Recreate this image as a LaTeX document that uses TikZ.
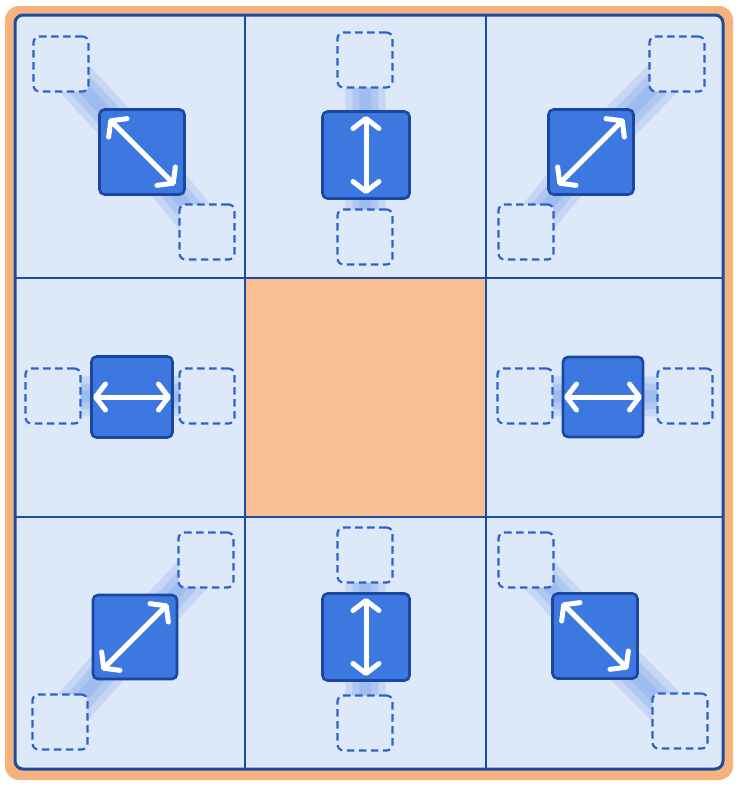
\documentclass[tikz,border=0pt]{standalone}
\usepackage{tikz}
\usetikzlibrary{positioning,arrows.meta}

\definecolor{cellbg}{HTML}{DDE8F8}
\definecolor{gridline}{HTML}{1D4C9E}
\definecolor{framecol}{HTML}{F6B27D}
\definecolor{centrecol}{HTML}{F8BF92}
\definecolor{boxfill}{HTML}{3C78E0}
\definecolor{boxedge}{HTML}{1A47A0}
\definecolor{ghostline}{HTML}{2D62C6}

\begin{document}
\begin{tikzpicture}[x=1pt,y=-1pt,
    movebox/.style={draw=boxedge, fill=boxfill, line width=2.6pt, rounded corners=5pt, minimum size=#1, inner sep=0pt},
    ghostbox/.style={draw=ghostline, fill=cellbg, dash pattern=on 7.5pt off 4.5pt, line width=2.2pt, rounded corners=6pt, minimum size=55pt, inner sep=0pt},
    trail/.style={draw=boxfill, line width=#1, opacity=0.15},
    dirarrow/.style={draw=white, line width=5pt, line cap=round,
        {Straight Barb[length=10pt,width=26pt,round]}-{Straight Barb[length=10pt,width=26pt,round]}}]
    \useasboundingbox (0,0) rectangle (742,790);

    % Marco y celdas
    \fill[framecol, rounded corners=14pt] (5,6) rectangle (733,780);
    \filldraw[fill=cellbg, draw=gridline, line width=3pt, rounded corners=8pt] (15,15) rectangle (723,769);
    \fill[centrecol] (245,278) rectangle (486,517);
    \foreach \gx in {245,486} {
        \draw[gridline, line width=2.6pt] (\gx,15) -- (\gx,769);
    }
    \foreach \gy in {278,517} {
        \draw[gridline, line width=2.6pt] (15,\gy) -- (723,\gy);
    }

    % Las ocho direcciones
    \foreach \n/\bx/\by/\bs/\ax/\ay/\cx/\cy/\ex/\ey in {
        tl/142/152/85/61/64/207/232/33/33,
        tc/366/155/87/365/60/365/237/0/39,
        tr/591/152/85/677/64/526/232/33/-33,
        ml/132/397/81/53/396/207/396/39/0,
        mr/603/397/80/525/396/685/396/39/0,
        bl/135/637/84/206/560/60/722/33/-33,
        bc/366/637/87/365/555/365/723/0/39,
        br/595/636/85/526/560/680/721/33/33} {
        \coordinate (p\n) at (\bx,\by);
        \coordinate (qa\n) at (\ax,\ay);
        \coordinate (qb\n) at (\cx,\cy);
        % estela
        \foreach \w in {40,26,12} {
            \draw[trail=\w pt] (qa\n) -- (p\n);
            \draw[trail=\w pt] (qb\n) -- (p\n);
        }
        \node[ghostbox] (ga\n) at (qa\n) {};
        \node[ghostbox] (gb\n) at (qb\n) {};
        \node[movebox=\bs pt] (b\n) at (p\n) {};
        \draw[dirarrow] ([shift={(-\ex,-\ey)}]b\n.center) -- ([shift={(\ex,\ey)}]b\n.center);
    }
\end{tikzpicture}
\end{document}
